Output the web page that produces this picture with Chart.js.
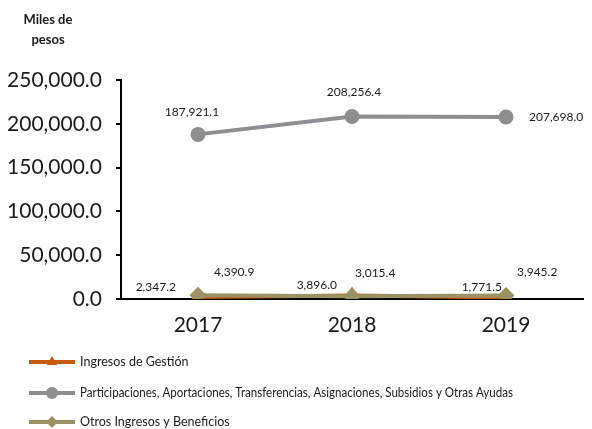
<!DOCTYPE html>
<html>
<head>
<meta charset="utf-8">
<script src="https://cdn.jsdelivr.net/npm/chart.js@4"></script>
<style>
  html, body { margin: 0; padding: 0; background: #fff; }
  #wrap { width: 592px; height: 429px; }
</style>
</head>
<body>
<div id="wrap"><canvas id="my-chart" width="592" height="429"></canvas></div>
<script>
'use strict';

let years = ['2017', '2018', '2019'];
let seriesNames = [
  'Ingresos de Gestión',
  'Participaciones, Aportaciones, Transferencias, Asignaciones, Subsidios y Otras Ayudas',
  'Otros Ingresos y Beneficios'
];
let ingresosGestion = [2347.2, 3896.0, 1771.5];
let participaciones = [187921.1, 208256.4, 207698.0];
let otrosIngresos = [4390.9, 3015.4, 3945.2];
let yTicks = [0, 50000, 100000, 150000, 200000, 250000];

let colors = ['#C55A11', '#8E8E92', '#9B9162'];
let markers = ['triangle', 'circle', 'rectRot'];

// where each value label sits relative to its point
let labelPlace = [
  [{ dx: -22, dy: -10, align: 'right' }, { dx: -15, dy: -10, align: 'right' }, { dx: -4, dy: -10, align: 'right' }],
  [{ dx: -6, dy: -22, align: 'center' }, { dx: 2, dy: -24, align: 'center' }, { dx: 23, dy: 0, align: 'left' }],
  [{ dx: 16, dy: -23, align: 'left' }, { dx: 3, dy: -23, align: 'left' }, { dx: 11, dy: -23, align: 'left' }]
];

function fmt(v) {
  return v.toLocaleString('en-US', { minimumFractionDigits: 1, maximumFractionDigits: 1 });
}

let valueLabels = {
  id: 'valueLabels',
  afterDatasetsDraw(chart) {
    let ctx = chart.ctx;
    ctx.save();
    ctx.font = '12px Lato';
    ctx.fillStyle = '#1a1a1a';
    ctx.textBaseline = 'middle';
    chart.data.datasets.forEach(function (ds, i) {
      let meta = chart.getDatasetMeta(i);
      meta.data.forEach(function (pt, j) {
        let p = labelPlace[i][j];
        ctx.textAlign = p.align;
        ctx.fillText(fmt(ds.data[j]), pt.x + p.dx, pt.y + p.dy);
      });
    });
    ctx.restore();
  }
};

let extras = {
  id: 'extras',
  afterDraw(chart) {
    let ctx = chart.ctx;
    ctx.save();

    // unit label
    ctx.font = 'bold 13px Lato';
    ctx.fillStyle = '#1a1a1a';
    ctx.textAlign = 'center';
    ctx.textBaseline = 'middle';
    ctx.fillText('Miles de', 48, 20);
    ctx.fillText('pesos', 48, 40);

    // legend: line with marker, then name
    let rowsY = [362, 393, 422];
    ctx.font = '12.5px Lato';
    ctx.textAlign = 'left';
    for (let i = 0; i < seriesNames.length; i++) {
      let y = rowsY[i];
      ctx.strokeStyle = colors[i];
      ctx.lineWidth = 4;
      ctx.beginPath();
      ctx.moveTo(29, y);
      ctx.lineTo(75, y);
      ctx.stroke();
      ctx.fillStyle = colors[i];
      Chart.helpers.drawPoint(ctx, { pointStyle: markers[i], radius: 6, rotation: 0, borderWidth: 0 }, 52, y);
      ctx.fillStyle = '#1a1a1a';
      ctx.fillText(seriesNames[i], 80, y, i === 1 ? 433 : undefined);
    }
    ctx.restore();
  }
};

function makeSet(i, data, radius) {
  return {
    label: seriesNames[i],
    data: data,
    borderColor: colors[i],
    backgroundColor: colors[i],
    borderWidth: 4,
    pointStyle: markers[i],
    pointRadius: radius,
    pointHoverRadius: radius,
    pointBorderWidth: 0,
    tension: 0
  };
}

let gestionSet = makeSet(0, ingresosGestion, 9);
gestionSet.order = 2;
let partSet = makeSet(1, participaciones, 7.5);
partSet.order = 1;
let otrosSet = makeSet(2, otrosIngresos, 8.5);
otrosSet.order = 0;

let canvasElem = document.getElementById('my-chart');

new Chart(canvasElem, {
  type: 'line',
  data: {
    labels: years,
    datasets: [gestionSet, partSet, otrosSet]
  },
  options: {
    responsive: false,
    animation: false,
    layout: { padding: { top: 80, bottom: 90, left: 3, right: 6 } },
    plugins: {
      legend: { display: false },
      tooltip: { enabled: false },
      title: { display: false }
    },
    scales: {
      x: {
        offset: true,
        grid: { display: false, drawTicks: false },
        border: { display: true, color: '#000', width: 2 },
        ticks: { color: '#1a1a1a', font: { family: 'Lato', size: 21 }, padding: 14 },
        afterFit(scale) { scale.height = 40; }
      },
      y: {
        min: 0,
        max: 250000,
        afterBuildTicks(scale) { scale.ticks = yTicks.map(function (v) { return { value: v }; }); },
        grid: { drawOnChartArea: false, drawTicks: true, tickLength: 5, color: '#000', lineWidth: 2 },
        border: { display: true, color: '#000', width: 2 },
        ticks: {
          color: '#1a1a1a',
          font: { family: 'Lato', size: 21 },
          padding: 14,
          callback(v) { return fmt(v); }
        },
        afterFit(scale) { scale.width = 118; }
      }
    }
  },
  plugins: [valueLabels, extras]
});
</script>
</body>
</html>
